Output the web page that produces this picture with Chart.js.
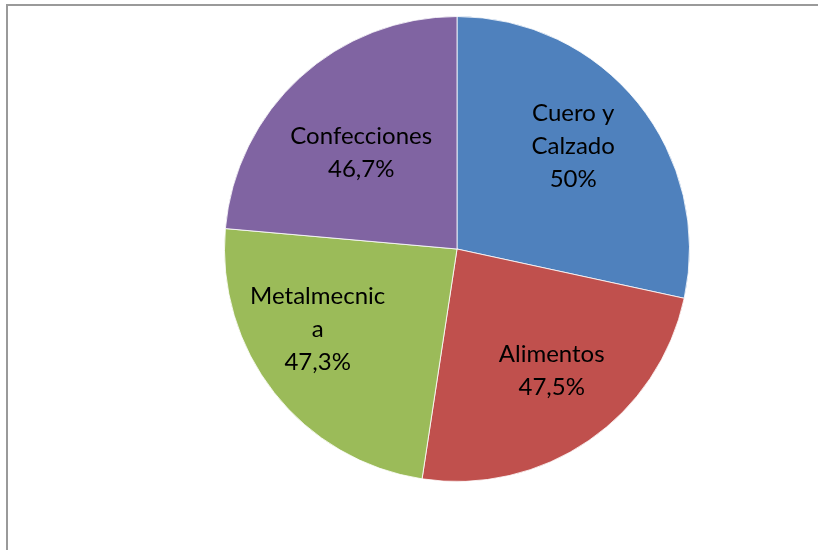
<!DOCTYPE html>
<html>
<head>
<meta charset="utf-8">
<script src="https://cdn.jsdelivr.net/npm/chart.js@4/dist/chart.umd.min.js"></script>
<style>
  body { margin: 0; background: #fff; }
  #wrap { position: relative; width: 818px; height: 550px; overflow: hidden; }
  #frame { position: absolute; left: 6px; top: 4px; width: 900px; height: 700px;
           border-left: 2px solid #9a9a9a; border-top: 2px solid #9a9a9a; }
  canvas { position: absolute; left: 0; top: 0; }
</style>
</head>
<body>
<div id="wrap">
  <div id="frame"></div>
  <canvas id="pieChart" width="818" height="550"></canvas>
</div>
<script>
// Sectors (order clockwise from 12 o'clock)
const sectors = ["Cuero y Calzado", "Alimentos", "Metalmecnica", "Confecciones"];
// slice sizes (% of the circle)
const sliceShare = [28.4, 24.0, 24.0, 23.6];
// percentages written on the slices
const labelPct = [50, 47.5, 47.3, 46.7];
// how the label name is broken into lines
const nameLines = [["Cuero y", "Calzado"], ["Alimentos"], ["Metalmecnic", "a"], ["Confecciones"]];
const colors = ["#4F81BD", "#C0504D", "#9BBB59", "#8064A2"];

function fmtPct(v) {
    return String(v).replace(".", ",") + "%";
}

// draws the in-slice labels (Excel "best fit" style)
const sliceLabels = {
    id: "sliceLabels",
    afterDatasetsDraw(chart, args, opts) {
        const ctx = chart.ctx;
        const arcs = chart.getDatasetMeta(0).data;
        ctx.save();
        ctx.font = opts.font;
        ctx.fillStyle = opts.color;
        ctx.textAlign = "center";
        ctx.textBaseline = "middle";
        arcs.forEach((arc, i) => {
            const p = arc.getProps(["x", "y", "startAngle", "endAngle", "outerRadius"], true);
            const mid = (p.startAngle + p.endAngle) / 2 + opts.turn[i] * Math.PI / 180;
            const d = p.outerRadius * opts.radius[i];
            const cx = p.x + Math.cos(mid) * d;
            const cy = p.y + Math.sin(mid) * d;
            const lines = nameLines[i].concat([fmtPct(labelPct[i])]);
            const top = cy - (lines.length - 1) * opts.lineHeight / 2;
            lines.forEach((t, j) => ctx.fillText(t, cx, top + j * opts.lineHeight));
        });
        ctx.restore();
    }
};

new Chart(document.getElementById("pieChart").getContext("2d"), {
    type: "pie",
    data: {
        labels: sectors,
        datasets: [{
            data: sliceShare,
            backgroundColor: colors,
            borderColor: "rgba(255,255,255,0.8)",
            borderWidth: 1
        }]
    },
    options: {
        responsive: false,
        animation: false,
        layout: { padding: { left: 224, right: 128, top: 16, bottom: 68 } },
        plugins: {
            legend: { display: false },
            tooltip: { enabled: false },
            sliceLabels: {
                font: "24px Lato",
                color: "#000",
                lineHeight: 33,
                radius: [0.666, 0.665, 0.691, 0.584],
                turn: [-2.5, -3.2, 8.3, -2.4]
            }
        }
    },
    plugins: [sliceLabels]
});
</script>
</body>
</html>
